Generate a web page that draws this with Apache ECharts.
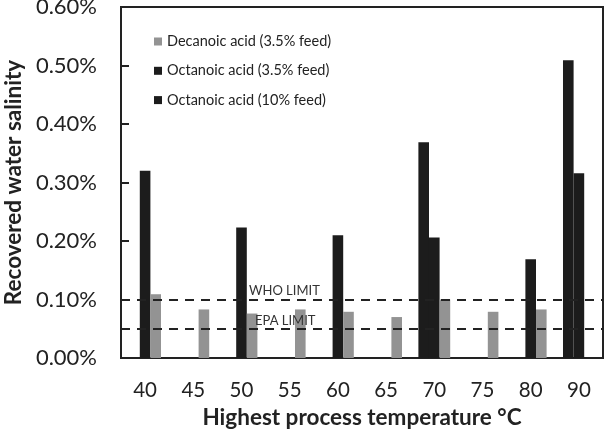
<!DOCTYPE html>
<html>
<head>
<meta charset="utf-8">
<script src="https://cdn.jsdelivr.net/npm/echarts@6/dist/echarts.min.js"></script>
<style>html,body{margin:0;padding:0;background:#fff}#c{width:609px;height:432px}</style>
</head>
<body>
<div id="c"></div>
<script>
const categories = ['40', '45', '50', '55', '60', '65', '70', '75', '80', '90'];
const octanoic10 = [null, null, null, null, null, null, 0.369, null, null, 0.509];
const octanoic35 = [0.320, null, 0.223, null, 0.210, null, 0.206, null, 0.169, 0.316];
const decanoic35 = [0.109, 0.083, 0.076, 0.083, 0.079, 0.070, 0.100, 0.079, 0.083, null];
const whoLimit = 0.100;
const epaLimit = 0.048;

const FONT = 'Lato';
const chart = echarts.init(document.getElementById('c'));
const option = {
  animation: false,
  backgroundColor: '#fff',
  textStyle: { fontFamily: FONT, color: '#222' },
  grid: {
    left: 121, right: 6, top: 7, bottom: 74, containLabel: false, outerBoundsMode: 'none',
    show: true, borderColor: '#222', borderWidth: 2, backgroundColor: 'transparent'
  },
  legend: {
    orient: 'vertical', left: 149, top: 29, itemWidth: 8, itemHeight: 8, itemGap: 14.3,
    icon: 'rect',
    textStyle: { fontFamily: FONT, fontSize: 14.5, color: '#222', lineHeight: 14 },
    data: ['Decanoic acid (3.5% feed)', 'Octanoic acid (3.5% feed)', 'Octanoic acid (10% feed)']
  },
  xAxis: {
    type: 'category', data: categories,
    name: 'Highest process temperature °C', nameLocation: 'middle', nameGap: 47,
    nameTextStyle: { fontFamily: FONT, fontSize: 22.5, fontWeight: 'bold', color: '#222' },
    axisLine: { lineStyle: { color: '#222', width: 2 } },
    axisTick: { inside: true, length: 7, lineStyle: { color: '#222', width: 2 } },
    axisLabel: { fontFamily: FONT, fontSize: 20.5, color: '#222', margin: 22 }
  },
  yAxis: {
    type: 'value', min: 0, max: 0.6, interval: 0.1,
    name: 'Recovered water salinity', nameLocation: 'middle', nameGap: 94, nameRotate: 90,
    nameTextStyle: { fontFamily: FONT, fontSize: 22.5, fontWeight: 'bold', color: '#222' },
    axisLine: { show: true, lineStyle: { color: '#222', width: 2 } },
    axisTick: { show: true, inside: true, length: 8, lineStyle: { color: '#222', width: 2 } },
    splitLine: { show: false },
    axisLabel: { fontFamily: FONT, fontSize: 22, color: '#222', margin: 24, formatter: v => v.toFixed(2) + '%' }
  },
  series: [
    {
      name: 'Octanoic acid (10% feed)', type: 'bar', data: octanoic10,
      itemStyle: { color: '#1c1c1c' }, barGap: '0%', barCategoryGap: '34%'
    },
    {
      name: 'Octanoic acid (3.5% feed)', type: 'bar', data: octanoic35,
      itemStyle: { color: '#1c1c1c' }, barGap: '0%', barCategoryGap: '34%'
    },
    {
      name: 'Decanoic acid (3.5% feed)', type: 'bar', data: decanoic35,
      itemStyle: { color: '#939393' }, barGap: '0%', barCategoryGap: '34%',
      markLine: {
        symbol: 'none', silent: true,
        lineStyle: { color: '#222', type: [9, 7], width: 2 },
        label: { show: true, position: 'insideStartTop', fontFamily: FONT, fontSize: 13, color: '#333' },
        data: [
          { yAxis: whoLimit, label: { formatter: 'WHO LIMIT', distance: [128, 2] } },
          { yAxis: epaLimit, label: { formatter: 'EPA LIMIT', distance: [134, 1] } }
        ]
      }
    }
  ]
};
chart.setOption(option);
</script>
</body>
</html>
